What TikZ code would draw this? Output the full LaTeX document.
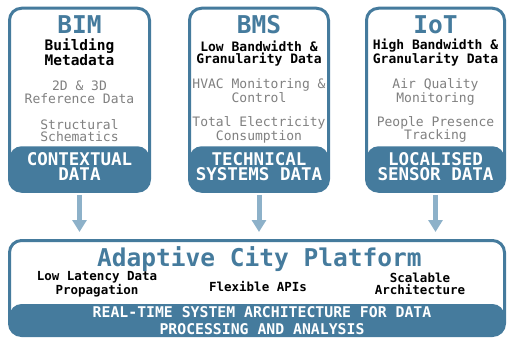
\documentclass[tikz,border=0pt]{standalone}
\usepackage{fontspec}
\setmonofont{DejaVu Sans Mono}
\usetikzlibrary{arrows.meta}
\definecolor{main}{HTML}{457B9D}
\definecolor{arr}{HTML}{8DB1C9}
\definecolor{sub}{HTML}{808080}
\tikzset{
  card/.style 2 args={draw=main, line width=3pt, rounded corners=12pt, fill=white,
    inner sep=0pt, minimum width=#1, minimum height=#2},
  band/.style={path picture={\fill[main] ([yshift=#1]path picture bounding box.south west) rectangle (path picture bounding box.south east);}},
  txt/.style={inner sep=0pt, anchor=base, align=center},
  title/.style={txt, text=main, font=\fontsize{24.5}{26}\selectfont\ttfamily\bfseries},
  subA/.style={txt, text=black, font=\fontsize{14.5}{12.7}\selectfont\ttfamily\bfseries},
  subB/.style={txt, text=black, font=\fontsize{13}{12}\selectfont\ttfamily\bfseries},
  greytxt/.style={txt, text=sub, font=\fontsize{13}{12.5}\selectfont\ttfamily},
  bandtxt/.style={txt, text=white, font=\fontsize{17.5}{14.5}\selectfont\ttfamily\bfseries},
  feat/.style={txt, text=black, font=\fontsize{12.5}{12}\selectfont\ttfamily\bfseries},
  bottxt/.style={txt, text=white, font=\fontsize{14.8}{17}\selectfont\ttfamily\bfseries},
  flow/.style={draw=arr, line width=5pt, -{Triangle[width=14pt,length=12pt]}}
}
\begin{document}
\begin{tikzpicture}[x=1pt,y=1pt]
\useasboundingbox (0,0) rectangle (507,341);
% cards
\node[card={140pt}{183pt}, band=45pt] (bim) at (79.5,241.25) {};
\node[card={139pt}{183pt}, band=45pt] (bms) at (259,241.25) {};
\node[card={138pt}{183pt}, band=45pt] (iot) at (435.5,241.25) {};
\node[card={495pt}{95pt}, band=31.5pt] (acp) at (257,53) {};
% BIM (anchor = baseline of last line)
\node[title] (bimT) at (79.5,307) {BIM};
\node[subA] (bimS) at (79.5,275.3) {Building\\Metadata};
\node[greytxt] (bimG1) at (79.5,237.7) {2D \& 3D\\Reference Data};
\node[greytxt] (bimG2) at (79.5,199.3) {Structural\\Schematics};
\node[bandtxt] (bimB) at (79.5,161) {CONTEXTUAL\\DATA};
% BMS
\node[title] (bmsT) at (259,307.5) {BMS};
\node[subB] (bmsS) at (259,277.3) {Low Bandwidth \&\\Granularity Data};
\node[greytxt] (bmsG1) at (259,238.5) {HVAC Monitoring \&\\Control};
\node[greytxt] (bmsG2) at (259,200.5) {Total Electricity\\Consumption};
\node[bandtxt] (bmsB) at (259,161) {TECHNICAL\\SYSTEMS DATA};
% IoT
\node[title] (iotT) at (435.5,307.5) {IoT};
\node[subB] (iotS) at (435.5,277.3) {High Bandwidth \&\\Granularity Data};
\node[greytxt] (iotG1) at (435.5,239) {Air Quality\\Monitoring};
\node[greytxt] (iotG2) at (435.5,201) {People Presence\\Tracking};
\node[bandtxt] (iotB) at (435.5,161) {LOCALISED\\SENSOR DATA};
% platform
\node[title] (acpT) at (259.5,75) {Adaptive City Platform};
\node[feat] (f1) at (97,47) {Low Latency Data\\Propagation};
\node[feat] (f2) at (258,50) {Flexible APIs};
\node[feat] (f3) at (420,47) {Scalable\\Architecture};
\node[bottxt] (acpB) at (262,7) {REAL-TIME SYSTEM ARCHITECTURE FOR DATA\\PROCESSING AND ANALYSIS};
% arrows
\draw[flow, shorten <=2pt, shorten >=7pt] (bim.south) -- (bim.south |- acp.north);
\draw[flow, shorten <=2pt, shorten >=7pt] (bms.south) -- (bms.south |- acp.north);
\draw[flow, shorten <=2pt, shorten >=7pt] (iot.south) -- (iot.south |- acp.north);
\end{tikzpicture}
\end{document}
